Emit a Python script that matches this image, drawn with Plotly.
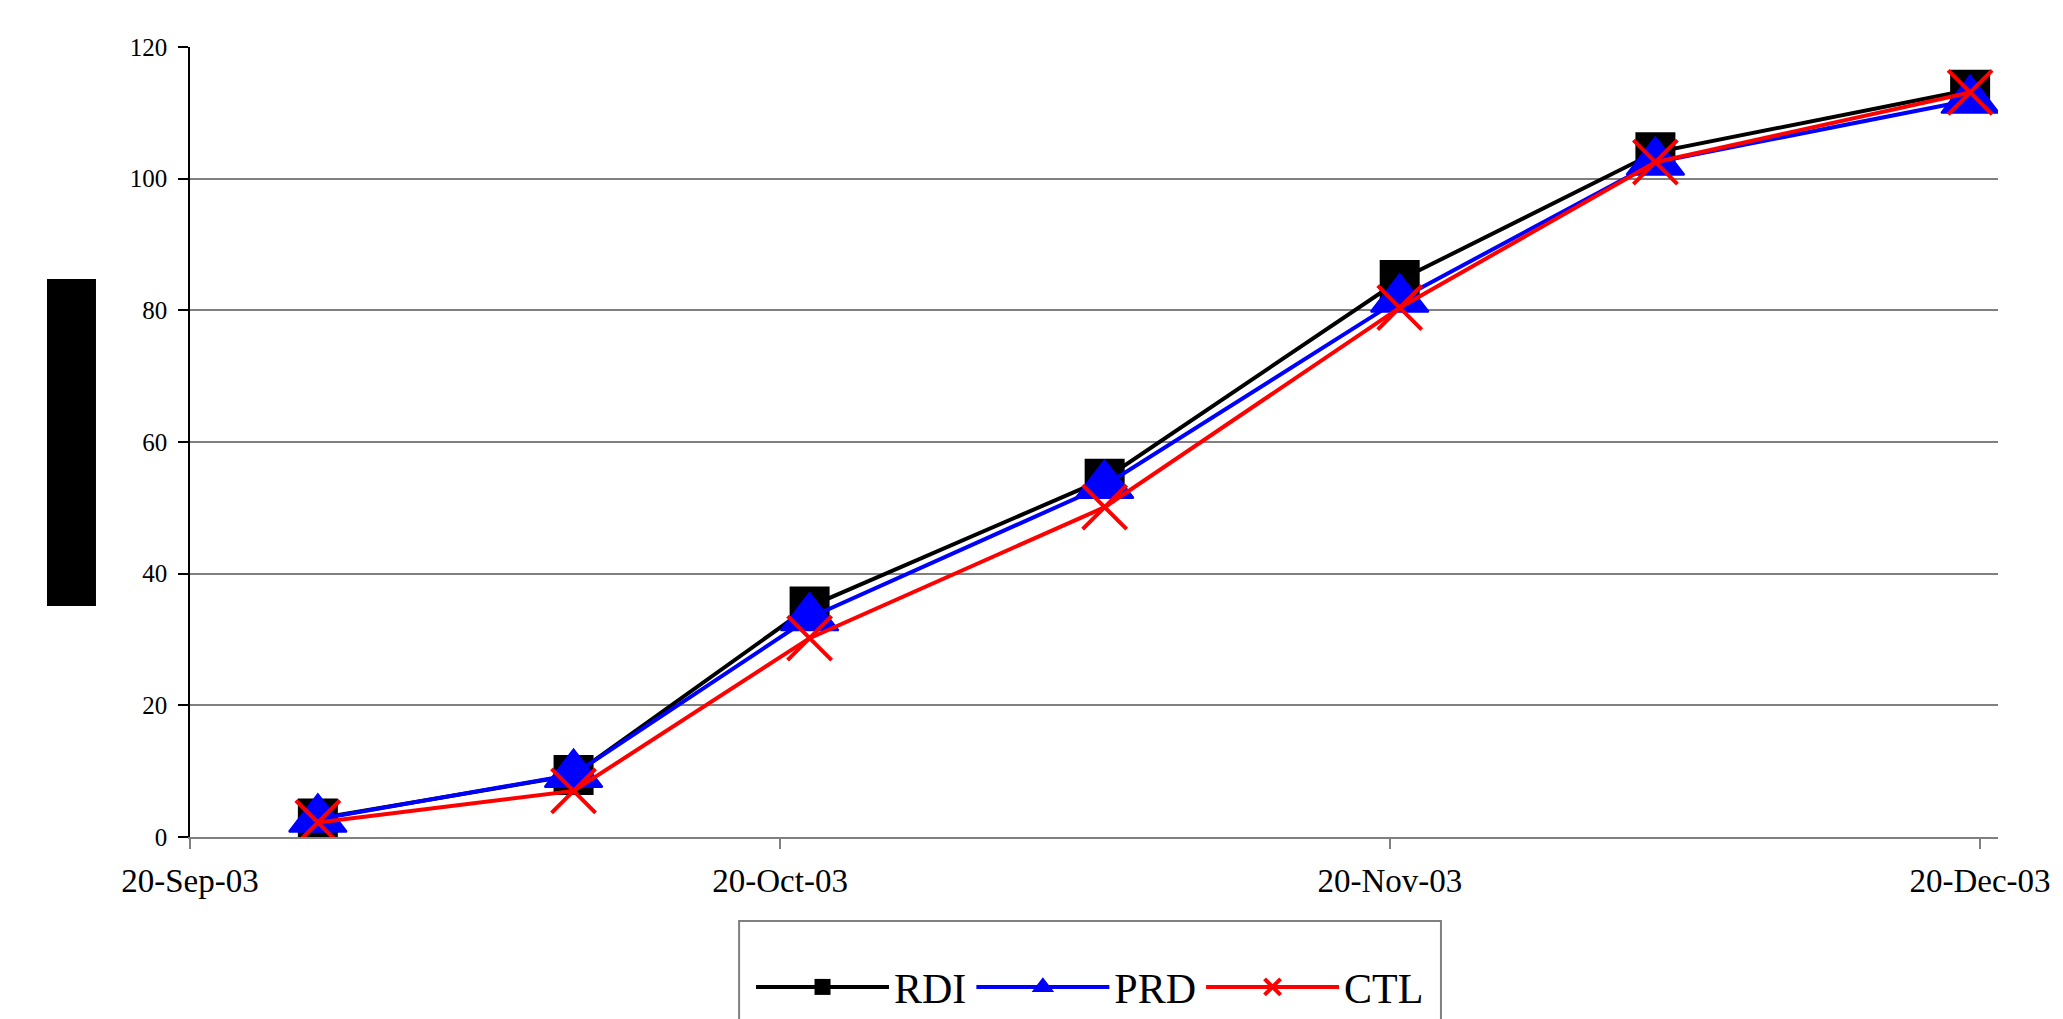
import pandas as pd
import plotly.graph_objects as go

# Sampling dates and cumulative values for the three treatments
dates = ["2003-09-26", "2003-10-09", "2003-10-21", "2003-11-05",
         "2003-11-20", "2003-12-03", "2003-12-19"]
rdi = [2.8, 9.4, 35.0, 54.4, 84.6, 104.0, 113.5]
prd = [2.7, 9.5, 33.3, 53.4, 81.7, 102.5, 111.9]
ctl = [2.2, 7.0, 30.2, 50.1, 80.4, 102.5, 113.1]

tick_dates = ["2003-09-20", "2003-10-20", "2003-11-20", "2003-12-20"]
y_ticks = [0, 20, 40, 60, 80, 100, 120]

# date axis places each point in the middle of its day slot
x = pd.to_datetime(dates) + pd.Timedelta(hours=12)

SERIF = "Liberation Serif, Times New Roman, serif"

fig = go.Figure()
fig.add_trace(go.Scatter(
    x=x, y=rdi, name="RDI", mode="lines+markers",
    line=dict(color="black", width=4),
    marker=dict(symbol="square", size=40, color="black"),
))
fig.add_trace(go.Scatter(
    x=x, y=prd, name="PRD", mode="lines+markers",
    line=dict(color="#0000ff", width=4),
    marker=dict(symbol="triangle-up", size=50, color="#0000ff",
                line=dict(color="#0000ff", width=2)),
))
fig.add_trace(go.Scatter(
    x=x, y=ctl, name="CTL", mode="lines+markers",
    line=dict(color="#ff0000", width=4),
    marker=dict(symbol="x-thin-open", size=44,
                line=dict(color="#ff0000", width=4)),
))

fig.update_layout(
    width=2063, height=1019,
    margin=dict(l=190, r=65, t=47, b=182, autoexpand=False),
    paper_bgcolor="white", plot_bgcolor="white",
    font=dict(family=SERIF, color="black"),
    showlegend=True,
    legend=dict(
        orientation="h", x=0.4978, xanchor="center", y=-0.19, yanchor="middle",
        borderwidth=0, bgcolor="rgba(0,0,0,0)",
        font=dict(family=SERIF, size=42, color="black"),
        itemwidth=133,
    ),
    xaxis=dict(
        type="date",
        range=["2003-09-20", "2003-12-20 22:00"],
        tickvals=tick_dates, tickformat="%d-%b-%y",
        tickfont=dict(family=SERIF, size=33, color="black"),
        ticks="outside", ticklen=10, tickcolor="#808080", tickwidth=1.5,
        ticklabelstandoff=4,
        showline=True, linecolor="#808080", linewidth=1.5,
        showgrid=False, zeroline=False,
    ),
    yaxis=dict(
        range=[0, 120], tickvals=y_ticks,
        tickfont=dict(family=SERIF, size=25, color="black"),
        ticks="outside", ticklen=10, tickcolor="black", tickwidth=1.5,
        ticklabelstandoff=6,
        showline=True, linecolor="black", linewidth=1.5,
        showgrid=True, gridcolor="#808080", gridwidth=1.5,
        zeroline=False,
    ),
    shapes=[
        # rotated axis title block
        dict(type="rect", xref="paper", yref="paper",
             x0=-0.0791, x1=-0.052, y0=0.2924, y1=0.7063,
             fillcolor="black", line=dict(width=0)),
        # legend frame, running off the bottom of the page
        dict(type="rect", xref="paper", yref="paper",
             x0=0.3037, x1=0.6919, y0=-0.26, y1=-0.1063,
             fillcolor="white", line=dict(color="#808080", width=2),
             layer="below"),
    ],
)

fig.write_html("out.html")
